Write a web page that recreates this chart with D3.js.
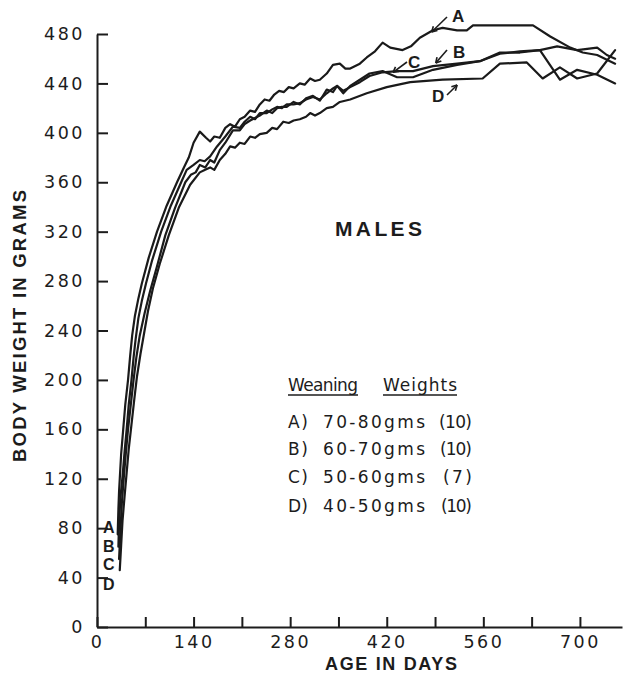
<!DOCTYPE html>
<html><head><meta charset="utf-8">
<script src="https://cdn.jsdelivr.net/npm/d3@7"></script>
<style>
html,body{margin:0;padding:0;background:#fff;}
svg{display:block;}
.ax .domain,.ax line{stroke:#1c1c1c;stroke-width:2;}
.ax text{font-family:"DejaVu Sans",sans-serif;font-size:17.5px;letter-spacing:2.5px;fill:#1c1c1c;}
.curve{fill:none;stroke:#1a1a1a;stroke-width:2.2;stroke-linejoin:round;stroke-linecap:round;}
.bold{font-family:"Liberation Sans",Arial,sans-serif;font-weight:bold;fill:#1c1c1c;}
.reg{font-family:"DejaVu Sans",sans-serif;fill:#1c1c1c;}
</style></head>
<body>
<script>
// ---- data (age in days, body weight in grams) ----
const seriesKeys = ["A","B","C","D"];
const legendRanges = ["70-80gms","60-70gms","50-60gms","40-50gms"];
const legendCounts = ["(10)","(10)","(7)","(10)"];
const xTickValues = [0,70,140,210,280,350,420,490,560,630,700];
const yTickValues = [0,40,80,120,160,200,240,280,320,360,400,440,480];

const dayA = [30,31,32,33,35,38,41,45,48,51,55,60,65,75,87,101,116,126,133,140,149,158,164,170,178,186,193,200,207,214,222,229,236,243,250,257,264,271,278,285,294,301,309,316,323,333,342,352,360,367,381,391,403,414,425,443,455,468,487,501,522,536,545,632,657,686,704,725,751];
const valA = [75,95,110,120,140,160,180,200,219,236,252,266,278,299,320,341,360,372,380,392,401,396,393,397,396,404,407,405,411,413,418,417,423,427,426,431,434,433,437,436,440,439,444,442,443,448,455,456,452,452,456,461,466,473,469,467,470,477,483,485,483,483,487,487,478,469,465,463,456];

const dayB = [31,32,34,37,40,43,46,50,53,56,60,65,71,80,93,107,122,130,140,149,156,164,174,186,197,207,214,222,229,236,246,254,261,268,275,285,294,303,313,323,333,342,348,357,367,381,395,414,435,458,487,522,555,584,613,642,667,696,725,739,751];
const valB = [65,85,105,122,142,160,180,200,218,233,250,264,278,297,320,341,360,370,374,378,377,381,389,397,405,404,409,413,411,416,416,419,421,420,423,423,424,427,429,427,432,436,438,434,437,441,446,449,450,450,454,456,458,465,465,467,470,467,469,463,460];

const dayC = [32,34,36,39,42,45,49,53,57,62,69,77,87,99,113,128,136,143,149,157,164,170,178,186,197,207,214,222,229,236,246,254,261,268,275,285,294,303,313,323,333,342,348,357,367,381,395,414,435,458,487,522,555,584,613,642,671,696,725,751];
const valC = [55,78,100,122,142,160,180,200,218,236,254,272,292,317,339,360,366,368,374,372,378,376,386,392,402,402,407,410,412,414,418,416,420,421,421,425,423,428,430,426,435,433,438,432,438,443,448,450,445,445,451,455,458,464,466,467,443,451,447,440];

const dayD = [33,35,37,40,43,46,50,54,58,63,68,74,81,91,104,119,135,149,156,164,170,178,186,193,200,207,214,222,229,236,246,254,261,270,278,285,294,303,309,316,323,333,342,352,367,391,420,454,501,559,584,623,646,671,696,725,751];
const valD = [46,66,86,106,125,144,164,184,203,221,237,256,274,294,317,340,358,368,370,372,370,378,383,389,388,392,391,397,396,399,400,404,403,409,408,410,411,413,416,414,416,420,421,425,427,432,437,441,443,444,456,457,444,453,444,448,467];

const seriesDays = [dayA, dayB, dayC, dayD];
const seriesVals = [valA, valB, valC, valD];

// ---- layout ----
const W = 625, H = 677;
const svg = d3.select("body").append("svg").attr("width", W).attr("height", H);
const x = d3.scaleLinear([0, 761], [97, 622]);
const y = d3.scaleLinear([0, 480], [627, 34]);

// axes
svg.append("g").attr("class","ax").attr("transform",`translate(0,${y(0)})`)
  .call(d3.axisBottom(x).tickValues(xTickValues).tickSize(-10).tickSizeOuter(0).tickPadding(9)
    .tickFormat(d => d % 140 === 0 ? d : ""));
svg.append("g").attr("class","ax").attr("transform",`translate(${x(0)},0)`)
  .call(d3.axisLeft(y).tickValues(yTickValues).tickSize(-11).tickSizeOuter(0).tickPadding(12));

// curves
const line = d3.line().x(d => x(d[0])).y(d => y(d[1])).curve(d3.curveLinear);
seriesKeys.forEach((k, i) => {
  svg.append("path").attr("class","curve").attr("d", line(d3.zip(seriesDays[i], seriesVals[i])));
});

// start letters beside the axis
const startY = [533, 552, 570, 590];
seriesKeys.forEach((k, i) => {
  svg.append("text").attr("class","bold").attr("x", 103).attr("y", startY[i])
    .attr("font-size", 16).text(k);
});

// curve annotations with arrows (tip in data coords, label offsets in px)
const annTip = [[485,481.6],[491,456.5],[429,449],[522,438.7]];
const annText = [[452,22],[453,58],[408,68],[432,102]];
const annTail = [[447,17],[447,50],[407,62],[447,95]];
seriesKeys.forEach((k, i) => {
  const tx = x(annTip[i][0]), ty = y(annTip[i][1]);
  const [sx, sy] = annTail[i];
  svg.append("line").attr("x1",sx).attr("y1",sy).attr("x2",tx).attr("y2",ty)
    .attr("stroke","#1c1c1c").attr("stroke-width",1.6);
  const ang = Math.atan2(ty - sy, tx - sx);
  const hl = 6;
  [0.5, -0.5].forEach(da => {
    svg.append("line").attr("x1",tx).attr("y1",ty)
      .attr("x2", tx - hl*Math.cos(ang+da)).attr("y2", ty - hl*Math.sin(ang+da))
      .attr("stroke","#1c1c1c").attr("stroke-width",1.6);
  });
  svg.append("text").attr("class","bold").attr("x", annText[i][0]).attr("y", annText[i][1])
    .attr("font-size", 17).text(k);
});

// titles
svg.append("text").attr("class","bold").attr("font-size",18.5)
  .attr("transform","translate(26,326) rotate(-90)").attr("text-anchor","middle")
  .attr("textLength",272).attr("lengthAdjust","spacing").text("BODY WEIGHT IN GRAMS");
svg.append("text").attr("class","bold").attr("font-size",18).attr("x",325).attr("y",670)
  .attr("textLength",132).attr("lengthAdjust","spacing").text("AGE IN DAYS");
svg.append("text").attr("class","bold").attr("font-size",21).attr("x",335).attr("y",236)
  .attr("textLength",87).attr("lengthAdjust","spacing").text("MALES");

// legend
svg.append("text").attr("class","reg").attr("font-size",17).attr("x",288).attr("y",391)
  .attr("textLength",70).attr("lengthAdjust","spacing").text("Weaning");
svg.append("text").attr("class","reg").attr("font-size",17).attr("x",383).attr("y",391)
  .attr("textLength",74).attr("lengthAdjust","spacing").text("Weights");
[[288,358],[383,457]].forEach(([a,b]) => {
  svg.append("line").attr("x1",a).attr("x2",b).attr("y1",395).attr("y2",395)
    .attr("stroke","#1c1c1c").attr("stroke-width",1.6);
});
const legBase = [428, 455, 483, 512];
const cntX = [439, 440, 443, 441];
seriesKeys.forEach((k, i) => {
  svg.append("text").attr("class","reg").attr("font-size",17).attr("x",288).attr("y",legBase[i])
    .attr("textLength",20).attr("lengthAdjust","spacing").text(k + ")");
  svg.append("text").attr("class","reg").attr("font-size",17).attr("x",323).attr("y",legBase[i])
    .attr("textLength",102).attr("lengthAdjust","spacing").text(legendRanges[i]);
  svg.append("text").attr("class","reg").attr("font-size",17).attr("x",cntX[i]).attr("y",legBase[i])
    .attr("textLength",472 - cntX[i]).attr("lengthAdjust","spacing").text(legendCounts[i]);
});
</script>
</body></html>
